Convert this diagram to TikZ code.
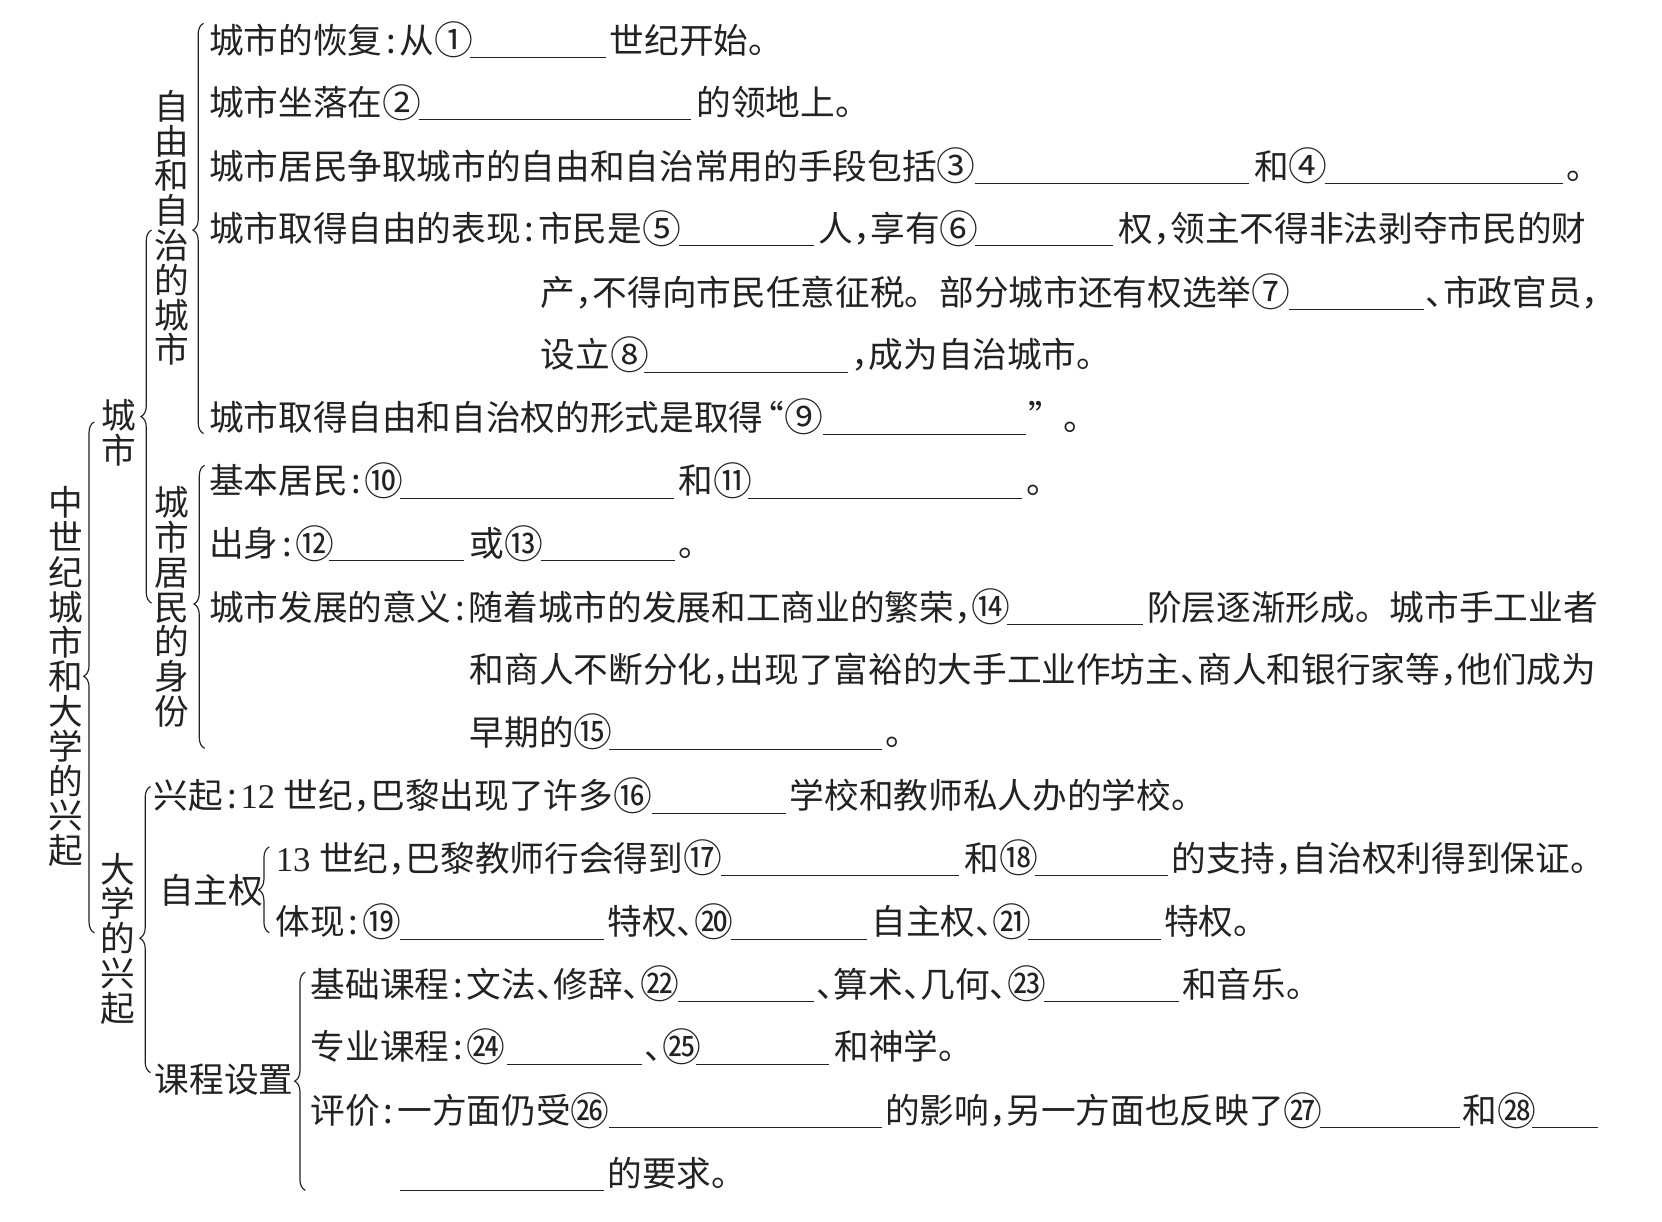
\documentclass[tikz,border=0pt]{standalone}
\usepackage{graphicx}
\usepackage{fontspec}
\setmainfont{Noto Sans CJK SC}
\newfontfamily\lat{Liberation Serif}
\usetikzlibrary{decorations.pathreplacing}
\definecolor{ink}{HTML}{222222}
\newcommand\cl{\makebox[0.5em][c]{:}}
\newcommand\cm{\makebox[0.5em][l]{，}}
\newcommand\dn{\makebox[0.5em][l]{、}}
\newcommand\oq{\makebox[0.6em][r]{“}}
\newcommand\cn[1]{\raisebox{-0.045em}{\scalebox{1.12}{#1}}}
\newcommand\fsz{\fontsize{32.7}{32.8}\selectfont}
\begin{document}
\begin{tikzpicture}[x=1pt,y=-1pt,
  txt/.style={anchor=base west, inner sep=0pt, font=\fsz, text=ink},
  vt/.style={anchor=center, inner sep=0pt, align=center, font=\fsz, text=ink},
  ul/.style={line width=0.9pt, draw=ink},
  brc/.style={decorate, decoration={brace, amplitude=10pt, aspect=#1}, line width=1.1pt, draw=ink}]
\useasboundingbox[fill=white] (0,0) rectangle (1568,1152);

% vertical labels
\node[vt] (title) at (62,638.5) {中\\世\\纪\\城\\市\\和\\大\\学\\的\\兴\\起};
\node[vt] (lcity) at (112,408) {城\\市};
\node[vt] (luniv) at (111,885.5) {大\\学\\的\\兴\\起};
\node[vt] (lfree) at (162,215) {自\\由\\和\\自\\治\\的\\城\\市};
\node[vt] (lres) at (162,572.5) {城\\市\\居\\民\\的\\身\\份};
\node[txt] (lauto) at (150,852) {自主权};
\node[txt] (lcourse) at (146,1031) {课程设置};

% braces
\coordinate (b0s) at (89,880);  \coordinate (b0e) at (89,398);
\coordinate (b1s) at (143,569); \coordinate (b1e) at (143,217);
\coordinate (b2s) at (142,1012);\coordinate (b2e) at (142,742);
\coordinate (b3s) at (192,409); \coordinate (b3e) at (192,22);
\coordinate (b4s) at (193,706); \coordinate (b4e) at (193,439);
\coordinate (b5s) at (254,880); \coordinate (b5e) at (254,799);
\coordinate (b6s) at (288,1123);\coordinate (b6e) at (288,917);
\draw[brc=0.502] (b0s) -- (b0e);
\draw[brc=0.5] (b1s) -- (b1e);
\draw[brc=0.47] (b2s) -- (b2e);
\draw[brc=0.496] (b3s) -- (b3e);
\draw[brc=0.51] (b4s) -- (b4e);
\draw[brc=0.5] (b5s) -- (b5e);
\draw[brc=0.5] (b6s) -- (b6e);

% row 0
\node[txt] (t0a) at (197,50) {城市的恢复\cl 从\cn{①}};
\draw[ul] (443,54) -- (572,54);
\node[txt] (t0b) at (575,50) {世纪开始。};
% row 1
\node[txt] (t1a) at (197,109) {城市坐落在\cn{②}};
\draw[ul] (395,113) -- (652,113);
\node[txt] (t1b) at (657,109) {的领地上。};
% row 2
\node[txt] (t2a) at (197,169) {城市居民争取城市的自由和自治常用的手段包括\cn{③}};
\draw[ul] (920,173) -- (1178,173);
\node[txt] (t2b) at (1183,169) {和\cn{④}};
\draw[ul] (1250,173) -- (1475,173);
\node[txt] (t2c) at (1478,169) {。};
% row 3
\node[txt] (t3a) at (197,228) {城市取得自由的表现\cl 市民是\cn{⑤}};
\draw[ul] (641,232) -- (768,232);
\node[txt] (t3b) at (772,228) {人\cm 享有\cn{⑥}};
\draw[ul] (920,232) -- (1050,232);
\node[txt] (t3c) at (1055,228) {权\cm 领主不得非法剥夺市民的财};
% row 4
\node[txt] (t4a) at (510,288) {产\cm 不得向市民任意征税。部分城市还有权选举\cn{⑦}};
\draw[ul] (1216,292) -- (1343,292);
\node[txt] (t4b) at (1345,288) {\dn 市政官员\cm};
% row 5
\node[txt] (t5a) at (510,347) {设立\cn{⑧}};
\draw[ul] (608,351) -- (800,351);
\node[txt] (t5b) at (803,347) {\cm 成为自治城市。};
% row 6
\node[txt] (t6a) at (197,406) {城市取得自由和自治权的形式是取得\oq \cn{⑨}};
\draw[ul] (776,410) -- (968,410);
\node[txt] (t6b) at (970,406) {”。};
% row 7
\node[txt] (t7a) at (197,466) {基本居民\cl \cn{⑩}};
\draw[ul] (377,470) -- (636,470);
\node[txt] (t7b) at (640,466) {和\cn{⑪}};
\draw[ul] (706,470) -- (964,470);
\node[txt] (t7c) at (968,466) {。};
% row 8
\node[txt] (t8a) at (197,525) {出身\cl \cn{⑫}};
\draw[ul] (310,529) -- (438,529);
\node[txt] (t8b) at (443,525) {或\cn{⑬}};
\draw[ul] (510,529) -- (637,529);
\node[txt] (t8c) at (640,525) {。};
% row 9
\node[txt] (t9a) at (197,585) {城市发展的意义\cl 随着城市的发展和工商业的繁荣\cm \cn{⑭}};
\draw[ul] (950,589) -- (1078,589);
\node[txt] (t9b) at (1082,585) {阶层逐渐形成。城市手工业者};
% row 10
\node[txt] (t10) at (443,644) {和商人不断分化\cm 出现了富裕的大手工业作坊主\dn 商人和银行家等\cm 他们成为};
% row 11
\node[txt] (t11a) at (443,703) {早期的\cn{⑮}};
\draw[ul] (575,707) -- (832,707);
\node[txt] (t11b) at (835,703) {。};
% row 12
\node[txt] (t12a) at (145,763) {兴起\cl {\lat 12 }世纪\cm 巴黎出现了许多\cn{⑯}};
\draw[ul] (615,767) -- (742,767);
\node[txt] (t12b) at (745,763) {学校和教师私人办的学校。};
% row 13
\node[txt] (t13a) at (260,822) {{\lat 13 }世纪\cm 巴黎教师行会得到\cn{⑰}};
\draw[ul] (680,826) -- (905,826);
\node[txt] (t13b) at (910,822) {和\cn{⑱}};
\draw[ul] (976,826) -- (1102,826);
\node[txt] (t13c) at (1105,822) {的支持\cm 自治权利得到保证。};
% row 14
\node[txt] (t14a) at (260,882) {体现\cl \cn{⑲}};
\draw[ul] (377,886) -- (570,886);
\node[txt] (t14b) at (573,882) {特权\dn \cn{⑳}};
\draw[ul] (690,886) -- (818,886);
\node[txt] (t14c) at (822,882) {自主权\dn \cn{㉑}};
\draw[ul] (970,886) -- (1095,886);
\node[txt] (t14d) at (1098,882) {特权。};
% row 15
\node[txt] (t15a) at (293,941) {基础课程\cl 文法\dn 修辞\dn \cn{㉒}};
\draw[ul] (640,945) -- (768,945);
\node[txt] (t15b) at (770,941) {\dn 算术\dn 几何\dn \cn{㉓}};
\draw[ul] (985,945) -- (1112,945);
\node[txt] (t15c) at (1115,941) {和音乐。};
% row 16
\node[txt] (t16a) at (293,1000) {专业课程\cl \cn{㉔}};
\draw[ul] (478,1004) -- (606,1004);
\node[txt] (t16b) at (608,1000) {\dn \cn{㉕}};
\draw[ul] (657,1004) -- (782,1004);
\node[txt] (t16c) at (787,1000) {和神学。};
% row 17
\node[txt] (t17a) at (293,1060) {评价\cl 一方面仍受\cn{㉖}};
\draw[ul] (575,1064) -- (832,1064);
\node[txt] (t17b) at (835,1060) {的影响\cm 另一方面也反映了\cn{㉗}};
\draw[ul] (1245,1064) -- (1377,1064);
\node[txt] (t17c) at (1380,1060) {和\cn{㉘}};
\draw[ul] (1445,1064) -- (1508,1064);
% row 18
\draw[ul] (377,1123) -- (570,1123);
\node[txt] (t18) at (573,1119) {的要求。};
\end{tikzpicture}
\end{document}
